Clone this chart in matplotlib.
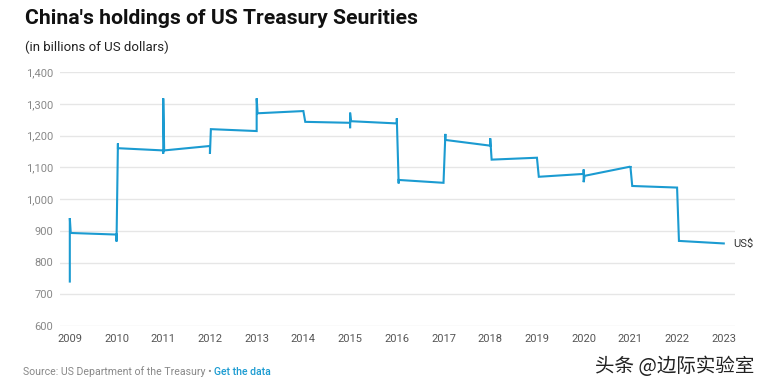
import matplotlib
matplotlib.use("Agg")
import matplotlib.pyplot as plt

# path: decimal year -> holdings (bn US$)
years = [2009.0, 2009.0, 2009.02,
         2010.0, 2010.0, 2010.03, 2010.03,
         2011.0, 2011.0, 2011.0, 2011.02,
         2012.0, 2012.0, 2012.02,
         2013.0, 2013.0, 2013.02,
         2014.0, 2014.04,
         2015.0, 2015.0, 2015.0, 2015.02,
         2016.0, 2016.0, 2016.04, 2016.04,
         2017.0, 2017.04, 2017.04,
         2018.0, 2018.0, 2018.03,
         2019.0, 2019.04,
         2020.0, 2020.0, 2020.0, 2020.02,
         2021.0, 2021.0, 2021.04,
         2022.0, 2022.04,
         2023.0]
holdings = [740, 940, 893,
            888, 866, 1175, 1160,
            1153, 1143, 1317, 1153,
            1167, 1142, 1220,
            1214, 1317, 1270,
            1277, 1243,
            1240, 1223, 1272, 1245,
            1238, 1254, 1049, 1060,
            1051, 1205, 1186,
            1168, 1191, 1124,
            1130, 1070,
            1079, 1093, 1053, 1073,
            1102, 1104, 1041,
            1036, 868,
            860]
year_ticks = list(range(2009, 2024))
value_ticks = list(range(600, 1401, 100))

plt.rcParams["font.family"] = ["Roboto", "DejaVu Sans"]

fig = plt.figure(figsize=(7.64, 3.89), dpi=100)
ax = fig.add_axes([60 / 764, 1 - 326 / 389, 675 / 764, 254 / 389])

ax.plot(years, holdings, color="#1b9bd1", lw=1.5, solid_joinstyle="miter")
ax.text(years[-1] + 0.2, holdings[-1], "US$", fontsize=8, color="#333333",
        va="center", ha="left")

ax.set_xlim(2008.79, 2023.24)
ax.set_ylim(600, 1400)
ax.set_xticks(year_ticks)
ax.set_xticklabels([str(y) for y in year_ticks])
ax.set_yticks(value_ticks)
ax.set_yticklabels([f"{v:,}" for v in value_ticks])
ax.tick_params(length=0, labelsize=8, labelcolor="#888888")
ax.tick_params(axis="x", pad=6, labelcolor="#555555")
ax.tick_params(axis="y", pad=5)
ax.grid(axis="y", color="#e6e6e6", lw=1)
ax.set_axisbelow(True)
for s in ax.spines.values():
    s.set_visible(False)

fig.text(25 / 764, 1 - 18 / 389, "China's holdings of US Treasury Seurities",
         fontsize=15.2, fontweight="bold", color="#111111", va="center")
fig.text(25 / 764, 1 - 47 / 389, "(in billions of US dollars)",
         fontsize=9.5, color="#222222", va="center")

src = fig.text(23 / 764, 1 - 372 / 389, "Source: US Department of the Treasury \u2022 ",
               fontsize=7.6, color="#888888", va="center")
fig.canvas.draw()
bb = src.get_window_extent()
fig.text(bb.x1 / fig.bbox.width, 1 - 372 / 389, "Get the data",
         fontsize=7.6, color="#1b9bd1", va="center", fontweight="medium")

fig.text(754 / 764, 1 - 367 / 389, "头条 @边际实验室", fontsize=14,
         color="#222222", va="center", ha="right",
         family=["Noto Sans CJK SC", "DejaVu Sans"])

fig.savefig("out.png", dpi=100)
